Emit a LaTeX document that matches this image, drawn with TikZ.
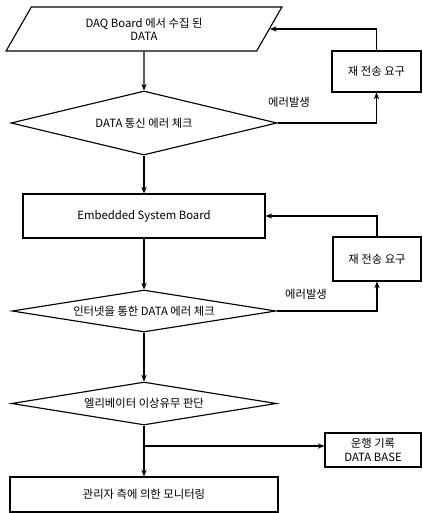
\documentclass[tikz,border=0pt]{standalone}
\usepackage{fontspec}
\newfontfamily\kr{Noto Sans CJK KR}
\usetikzlibrary{shapes.geometric,arrows.meta}

\tikzset{every picture/.style={line width=0.85pt}}
\tikzset{
  txt/.style={font=\kr\fontsize{8.5}{10}\selectfont,align=center,inner sep=0pt},
  box/.style={txt,draw,rectangle},
  dia/.style={txt,draw,diamond},
  para/.style={txt,draw,trapezium,trapezium left angle=60,trapezium right angle=120,trapezium stretches},
  arr/.style={-{Stealth[length=5pt,width=4pt]}}
}

\begin{document}
\begin{tikzpicture}[x=0.75pt,y=0.75pt,yscale=-1,xscale=1]
\useasboundingbox (0,0) rectangle (422,513);

% Data In [id:daq]
\node [para,minimum width=207pt,minimum height=33pt] (daq) at (144,29) {DAQ Board 에서 수집 된\\DATA};
% Decision [id:chk1]
\node [dia,aspect=4.2,minimum width=199.5pt,minimum height=48pt] (chk1) at (144,123) {DATA 통신 에러 체크};
% Rect [id:embedded]
\node [box,minimum width=181.5pt,minimum height=33pt] (embedded) at (144,216) {Embedded System Board};
% Rect [id:resend1]
\node [box,minimum width=66.75pt,minimum height=30.75pt] (resend1) at (376.5,71.5) {재 전송 요구};
% Decision [id:chk2]
\node [dia,aspect=6.6,minimum width=198pt,minimum height=31.5pt] (chk2) at (144,311) {인터넷을 통한 DATA 에러 체크};
% Rect [id:resend2]
\node [box,minimum width=66pt,minimum height=33pt] (resend2) at (377,259) {재 전송 요구};
% Decision [id:chk3]
\node [dia,aspect=6.6,minimum width=198.75pt,minimum height=32.25pt] (chk3) at (144,403.5) {엘리베이터 이상유무 판단};
% Rect [id:db]
\node [box,minimum width=72pt,minimum height=25.5pt] (db) at (373,450) {운행 기록\\DATA BASE};
% Rect [id:monitor]
\node [box,minimum width=201pt,minimum height=26.25pt] (monitor) at (144,494.5) {관리자 측에 의한 모니터링};

% Text Node
\node [txt] (err1) at (289,102) {에러발생};
% Text Node
\node [txt] (err2) at (306,294) {에러발생};

\coordinate (split) at (144,446);

%Straight Lines
\draw [arr] (daq) -- (chk1);
\draw [arr] (chk1) -- (embedded);
\draw [arr] (embedded) -- (chk2);
\draw [arr] (chk2) -- (chk3);
\draw [arr] (chk3) -- (monitor);
\draw [arr] (split) -- (split -| db.west);
%Loops back
\draw [arr] (chk1.east) -| (resend1.south);
\draw [arr] (resend1.north) |- (daq.east);
\draw [arr] (chk2.east) -| (resend2.south);
\draw [arr] (resend2.north) |- (embedded.east);

\end{tikzpicture}
\end{document}
